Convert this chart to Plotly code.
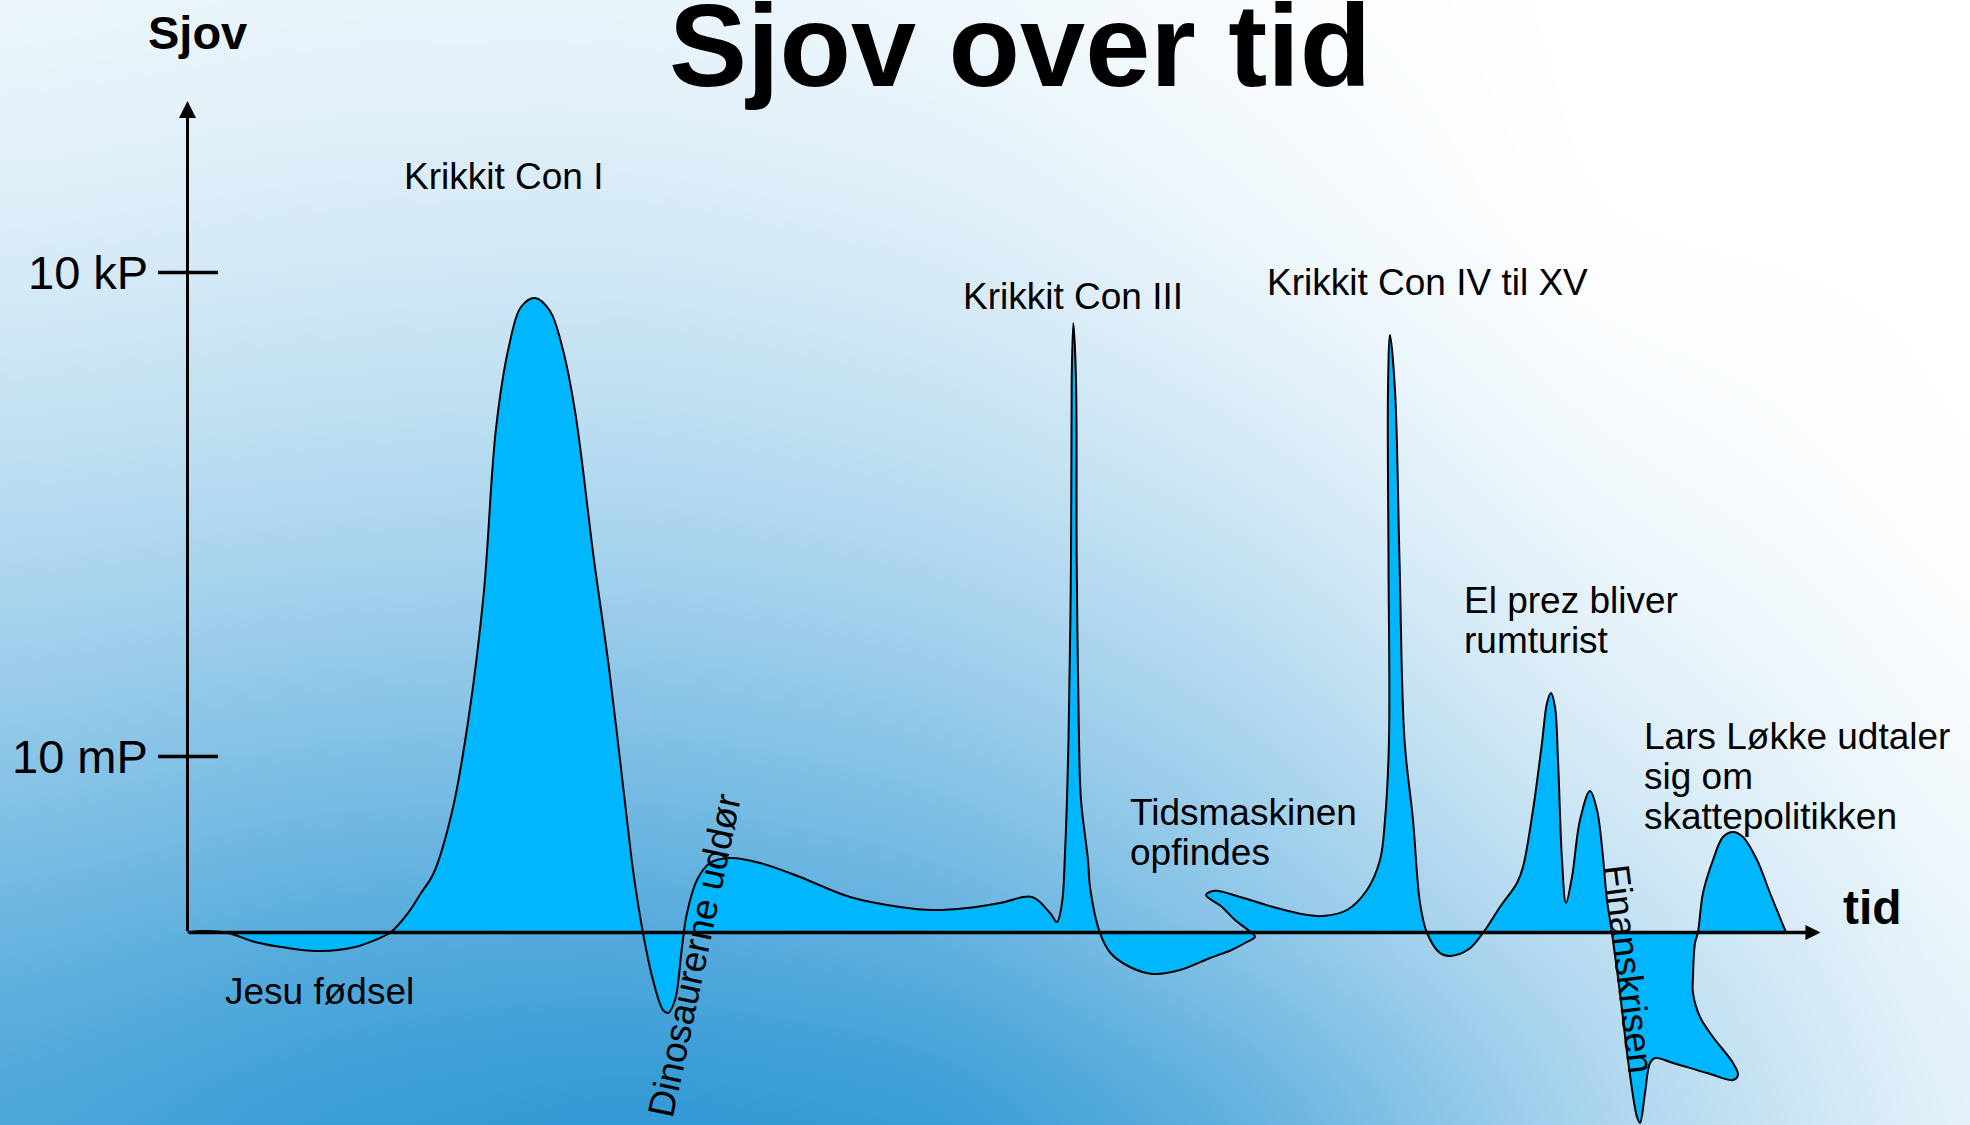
import numpy as np
import plotly.graph_objects as go

# ---------------- data ----------------
# hand-drawn "fun over time" curve (time units, fun units)
curve_time = [0.0, 1.35, 4.05, 6.75, 10.05, 13.35, 16.75, 18.75, 20.35, 22.05, 23.35, 24.6,
              26.45, 28.05, 29.6, 30.85, 32.15, 33.35, 34.75, 36.25, 37.45, 38.75, 40.65, 42.15,
              43.95, 44.55, 45.55, 46.55, 47.55, 48.05, 48.75, 49.45, 49.95, 50.95, 52.25, 54.25,
              57.25, 61.25, 66.25, 71.25, 74.55, 77.95, 81.25, 84.45, 86.25, 86.95, 87.45, 87.75,
              88.1, 88.35, 88.42, 88.58, 88.85, 88.92, 89.15, 89.35, 90.05, 90.25, 91.25, 92.3,
              94.25, 96.55, 99.25, 102.25, 104.4, 105.75, 106.75, 106.05, 104.75, 103.42, 101.85,
              102.75, 105.25, 108.55, 111.95, 113.55, 115.95, 117.95, 119.25, 119.75, 120.15,
              120.1, 120.05, 120.25, 120.75, 121.2, 121.7, 122.55, 123.25, 123.95, 125.25, 126.25,
              128.15, 129.75, 131.25, 132.95, 133.55, 134.55, 135.45, 135.95, 136.35, 136.75,
              137.05, 137.45, 137.85, 138.45, 139.25, 140.25, 140.95, 141.45, 141.95, 142.45,
              143.25, 144.05, 144.95, 145.25, 145.75, 146.25, 146.75, 148.55, 151.95, 154.55,
              155.05, 154.55, 152.55, 151.25, 150.55, 150.55, 150.75, 151.05, 151.55, 152.55,
              153.55, 154.55, 155.55, 156.95, 158.25, 159.75, 159.85]
curve_fun = [0.0, 0.15, -0.05, -0.95, -1.55, -1.85, -1.45, -0.75, 0.05, 1.95, 3.95, 5.9,
             12.05, 21.05, 33.65, 50.4, 58.65, 62.55, 63.45, 62.15, 58.65, 52.15, 37.25, 26.45,
             11.25, 6.25, -0.05, -4.75, -7.75, -8.05, -6.75, -1.45, 1.95, 5.25, 6.95, 7.45,
             6.95, 5.55, 3.55, 2.55, 2.25, 2.45, 2.95, 3.55, 1.95, 1.05, 2.95, 7.95,
             19.25, 37.25, 55.25, 60.95, 55.25, 37.25, 19.25, 13.25, 7.25, 4.55, -0.05, -2.05,
             -3.45, -4.15, -3.75, -2.55, -1.75, -1.05, -0.42, 0.25, 1.25, 2.58, 3.75,
             4.18, 3.55, 2.55, 1.75, 1.65, 2.25, 4.25, 7.25, 11.25, 19.25,
             37.25, 54.25, 59.75, 54.25, 37.25, 19.25, 11.25, 2.95, -0.05, -2.05, -2.35,
             -1.65, 0.25, 2.55, 4.95, 6.55, 12.25, 18.95, 22.95, 23.95, 22.55,
             17.25, 7.25, 2.95, 5.55, 11.25, 14.15, 12.25, 8.55, 3.25, -0.05,
             -6.05, -12.75, -18.45, -19.05, -16.05, -13.05, -12.55, -13.05, -14.05, -14.75,
             -14.25, -13.05, -10.45, -8.45, -6.05, -4.45, -1.05, 0.05, 3.95, 7.25,
             9.55, 10.05, 9.55, 7.25, 3.95, 0.25, 0.0]

tick_values = [17.6, 66.0]
tick_text = ["10 mP", "10 kP"]

title_text = "Sjov over tid"
y_title = "Sjov"
x_title = "tid"

event_labels = ["Krikkit Con I", "Krikkit Con III", "Krikkit Con IV til XV",
                "El prez bliver", "rumturist",
                "Lars Løkke udtaler", "sig om", "skattepolitikken",
                "Tidsmaskinen", "opfindes", "Jesu fødsel"]
# placement (layout) of the event labels: left x, middle y in data units
event_pos_x = [21.45, 77.35, 107.7, 127.45, 127.45, 145.4, 145.4, 145.4, 94.05, 94.05, 3.55]
event_pos_y = [75.65, 63.6, 65.05, 33.2, 29.25, 19.6, 15.6, 11.65, 12.05, 8.05, -5.9]

rotated_labels = ["Dinosaurerne uddør", "Finanskrisen"]
rotated_x = [50.65, 144.15]
rotated_y = [-2.35, -3.65]
rotated_angle = [-78, 83]

# ---------------- layout / style constants ----------------
X_RANGE = [-18.75, 178.25]
Y_RANGE = [-19.25, 93.25]
X_ARROW_TIP = 163.3
Y_ARROW_TIP = 83.15
FONT = "Liberation Sans, Arial, sans-serif"
FILL = "#00b6fc"

# decorative background shading (lightness levels on a coarse screen grid, top row first)
BG_COLS = [-60, 0, 250, 500, 750, 1000, 1250, 1568, 1630]
BG_ROWS = [-60, 0, 200, 400, 600, 750, 895, 960]
BG_LEVELS = [
    [238, 235, 235, 240, 250, 255, 255],
    [218, 212, 210, 218, 238, 255, 255],
    [185, 179, 175, 185, 207, 240, 255],
    [142, 128, 125, 138, 169, 213, 248],
    [105, 85, 80, 95, 140, 184, 238],
    [74, 55, 44, 50, 93, 163, 230],
]


def smooth_background():
    lv = np.array(BG_LEVELS, dtype=float)
    lv = np.hstack([lv[:, :1], lv, lv[:, -1:]])
    lv = np.vstack([lv[:1], lv, lv[-1:]])
    bx = np.array([(c * 1.2564 - 187.5) / 10 for c in BG_COLS])
    by = np.array([(932.5 - r * 1.2564) / 10 for r in BG_ROWS])[::-1]
    lv = lv[::-1]
    fx = np.arange(-22.0, 181.0, 1.0)
    fy = np.arange(-22.0, 96.0, 1.0)
    rows = np.array([np.interp(fx, bx, r) for r in lv])
    fine = np.array([np.interp(fy, by, rows[:, j]) for j in range(len(fx))]).T
    k = np.ones(13) / 13.0
    for _ in range(3):
        pad = np.pad(fine, ((0, 0), (6, 6)), mode="edge")
        fine = np.array([np.convolve(r, k, mode="valid") for r in pad])
        pad = np.pad(fine, ((6, 6), (0, 0)), mode="edge")
        fine = np.array([np.convolve(c, k, mode="valid") for c in pad.T]).T
    return fx, fy, fine


fig = go.Figure()

fx, fy, fz = smooth_background()
fig.add_trace(go.Heatmap(x=fx, y=fy, z=fz, colorscale=[[0, "#2a95d3"], [1, "#ffffff"]],
                         zmin=42, zmax=255, zsmooth="best", showscale=False, hoverinfo="skip"))

# the fun curve
fig.add_trace(go.Scatter(x=curve_time, y=curve_fun, mode="lines", fill="toself",
                         fillcolor=FILL, line=dict(color="black", width=2, shape="spline",
                                                   smoothing=1.0),
                         hoverinfo="skip", showlegend=False))

annotations = []
# axes with arrows
annotations.append(dict(x=X_ARROW_TIP, y=0, ax=0, ay=0, xref="x", yref="y", axref="x", ayref="y",
                        text="", showarrow=True, arrowhead=2, arrowwidth=3.5, arrowsize=0.86,
                        arrowcolor="black", standoff=0, startstandoff=0))
annotations.append(dict(x=0, y=Y_ARROW_TIP, ax=0, ay=0, xref="x", yref="y", axref="x", ayref="y",
                        text="", showarrow=True, arrowhead=2, arrowwidth=3, arrowsize=1.13,
                        arrowcolor="black", standoff=0, startstandoff=0))

shapes = []
for tv, tt in zip(tick_values, tick_text):
    shapes.append(dict(type="line", xref="x", yref="y", x0=-2.95, x1=3.05, y0=tv, y1=tv,
                       line=dict(color="black", width=3.5), layer="above"))
    annotations.append(dict(x=-3.8, y=tv, xref="x", yref="y", text=tt, showarrow=False,
                            xanchor="right", yanchor="middle",
                            font=dict(family=FONT, size=47, color="black")))

# axis titles and main title
annotations.append(dict(x=0.95, y=90.05, xref="x", yref="y", text="<b>%s</b>" % y_title,
                        showarrow=False, xanchor="center", yanchor="middle",
                        font=dict(family=FONT, size=47, color="black")))
annotations.append(dict(x=168.45, y=2.5, xref="x", yref="y", text="<b>%s</b>" % x_title,
                        showarrow=False, xanchor="center", yanchor="middle",
                        font=dict(family=FONT, size=48, color="black")))
annotations.append(dict(x=83.25, y=88.7, xref="x", yref="y", text="<b>%s</b>" % title_text,
                        showarrow=False, xanchor="center", yanchor="middle",
                        font=dict(family=FONT, size=117, color="black")))

for lab, lx, ly in zip(event_labels, event_pos_x, event_pos_y):
    annotations.append(dict(x=lx, y=ly, xref="x", yref="y", text=lab, showarrow=False,
                            xanchor="left", yanchor="middle",
                            font=dict(family=FONT, size=37, color="black")))

for lab, lx, ly, ang in zip(rotated_labels, rotated_x, rotated_y, rotated_angle):
    annotations.append(dict(x=lx, y=ly, xref="x", yref="y", text=lab, showarrow=False,
                            xanchor="center", yanchor="middle", textangle=ang,
                            font=dict(family=FONT, size=37, color="black")))

fig.update_layout(
    width=1970, height=1125, autosize=False,
    margin=dict(l=0, r=0, t=0, b=0, pad=0),
    paper_bgcolor="white", plot_bgcolor="white",
    xaxis=dict(range=X_RANGE, visible=False, fixedrange=True),
    yaxis=dict(range=Y_RANGE, visible=False, fixedrange=True),
    showlegend=False,
    annotations=annotations,
    shapes=shapes,
)

fig.write_html("out.html", config={"displayModeBar": False},
               post_script="document.body.style.margin='0';document.body.style.overflow='hidden';")
